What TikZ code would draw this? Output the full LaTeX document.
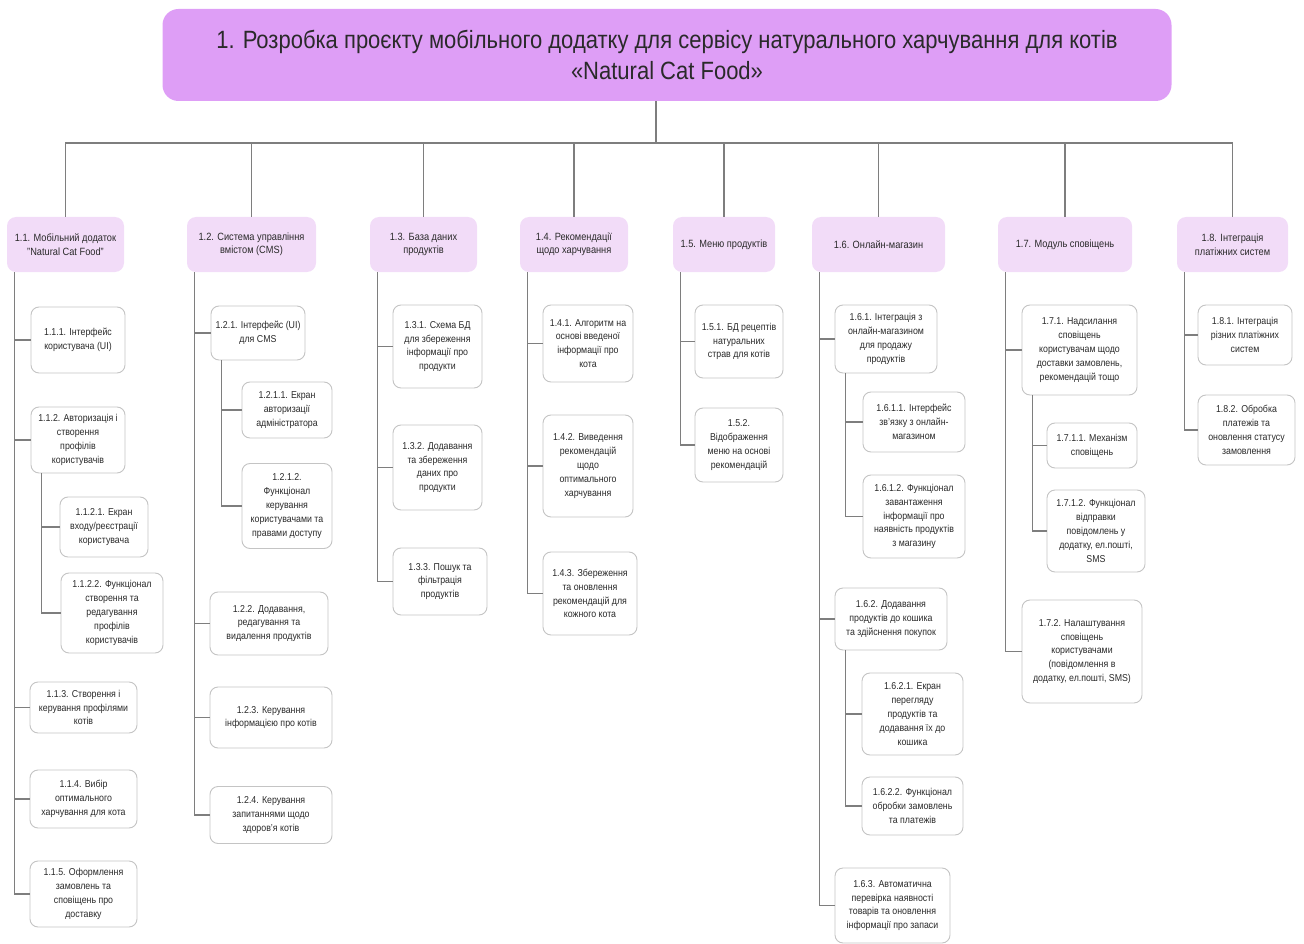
\documentclass[tikz,border=0pt]{standalone}
\usepackage{fontspec}
\setmainfont{Liberation Sans}[FakeStretch=0.88]
\begin{document}
\begin{tikzpicture}[x=1pt,y=-1pt,
  link/.style={draw=linegray, line width=1.1pt},
  rootbox/.style={fill=rootviolet, rounded corners=16pt, align=center, text=textdark,
    font=\fontsize{25}{31}\selectfont, inner sep=0pt},
  groupbox/.style={fill=grouplilac, rounded corners=9pt, align=center, text=textdark,
    font=\fontsize{10.5}{13.5}\selectfont, inner sep=1pt},
  leafbox/.style={draw=boxgray, line width=0.9pt, fill=white, rounded corners=8pt,
    align=center, text=textdark, font=\fontsize{10}{13.8}\selectfont, inner sep=1pt},
]
\definecolor{rootviolet}{HTML}{DE9EF6}
\definecolor{grouplilac}{HTML}{F2DCF8}
\definecolor{boxgray}{HTML}{C4C4C4}
\definecolor{linegray}{HTML}{7E7E7E}
\definecolor{textdark}{HTML}{2A2A2A}

\useasboundingbox (0,0) rectangle (1304,944);

% root
\node[rootbox, minimum width=1009, minimum height=92] (root) at (667,55)
  {1. Розробка проєкту мобільного додатку для сервісу натурального харчування для котів\\«Natural Cat Food»};

% second level
\node[groupbox, minimum width=117, minimum height=55] (n11) at (65.5,244.5) {1.1. Мобільний додаток\\"Natural Cat Food"};
\node[groupbox, minimum width=129, minimum height=55] (n12) at (251.5,244.5) {1.2. Система управління\\вмістом (CMS)};
\node[groupbox, minimum width=107, minimum height=55] (n13) at (423.5,244.5) {1.3. База даних\\продуктів};
\node[groupbox, minimum width=108, minimum height=55] (n14) at (574,244.5) {1.4. Рекомендації\\щодо харчування};
\node[groupbox, minimum width=102, minimum height=55] (n15) at (724,244.5) {1.5. Меню продуктів};
\node[groupbox, minimum width=133, minimum height=55] (n16) at (878.5,244.5) {1.6. Онлайн-магазин};
\node[groupbox, minimum width=134, minimum height=55] (n17) at (1065,244.5) {1.7. Модуль сповіщень};
\node[groupbox, minimum width=111, minimum height=55] (n18) at (1232.5,244.5) {1.8. Інтеграція\\платіжних систем};

% 1.1
\node[leafbox, minimum width=94, minimum height=66] (n111) at (78,340) {1.1.1. Інтерфейс\\користувача (UI)};
\node[leafbox, minimum width=94, minimum height=66] (n112) at (78,440) {1.1.2. Авторизація і\\створення\\профілів\\користувачів};
\node[leafbox, minimum width=88, minimum height=60] (n1121) at (104,527) {1.1.2.1. Екран\\входу/реєстрації\\користувача};
\node[leafbox, minimum width=102, minimum height=80] (n1122) at (112,613) {1.1.2.2. Функціонал\\створення та\\редагування\\профілів\\користувачів};
\node[leafbox, minimum width=107, minimum height=51] (n113) at (83.5,707.5) {1.1.3. Створення і\\керування профілями\\котів};
\node[leafbox, minimum width=107, minimum height=58] (n114) at (83.5,799) {1.1.4. Вибір\\оптимального\\харчування для кота};
\node[leafbox, minimum width=107, minimum height=66] (n115) at (83.5,894) {1.1.5. Оформлення\\замовлень та\\сповіщень про\\доставку};

% 1.2
\node[leafbox, minimum width=94, minimum height=54] (n121) at (258,333) {1.2.1. Інтерфейс (UI)\\для CMS};
\node[leafbox, minimum width=90, minimum height=56] (n1211) at (287,410) {1.2.1.1. Екран\\авторизації\\адміністратора};
\node[leafbox, minimum width=90, minimum height=85] (n1212) at (287,506) {1.2.1.2.\\Функціонал\\керування\\користувачами та\\правами доступу};
\node[leafbox, minimum width=118, minimum height=63] (n122) at (269,623.5) {1.2.2. Додавання,\\редагування та\\видалення продуктів};
\node[leafbox, minimum width=122, minimum height=61] (n123) at (271,717.5) {1.2.3. Керування\\інформацією про котів};
\node[leafbox, minimum width=122, minimum height=57] (n124) at (271,815) {1.2.4. Керування\\запитаннями щодо\\здоров'я котів};

% 1.3
\node[leafbox, minimum width=89, minimum height=83] (n131) at (437.5,346.5) {1.3.1. Схема БД\\для збереження\\інформації про\\продукти};
\node[leafbox, minimum width=89, minimum height=85] (n132) at (437.5,467.5) {1.3.2. Додавання\\та збереження\\даних про\\продукти};
\node[leafbox, minimum width=94, minimum height=67] (n133) at (440,581.5) {1.3.3. Пошук та\\фільтрація\\продуктів};

% 1.4
\node[leafbox, minimum width=90, minimum height=77] (n141) at (588,343.5) {1.4.1. Алгоритм на\\основі введеної\\інформації про\\кота};
\node[leafbox, minimum width=90, minimum height=102] (n142) at (588,466) {1.4.2. Виведення\\рекомендацій\\щодо\\оптимального\\харчування};
\node[leafbox, minimum width=94, minimum height=83] (n143) at (590,593.5) {1.4.3. Збереження\\та оновлення\\рекомендацій для\\кожного кота};

% 1.5
\node[leafbox, minimum width=88, minimum height=73] (n151) at (739,341.5) {1.5.1. БД рецептів\\натуральних\\страв для котів};
\node[leafbox, minimum width=88, minimum height=74] (n152) at (739,445) {1.5.2.\\Відображення\\меню на основі\\рекомендацій};

% 1.6
\node[leafbox, minimum width=102, minimum height=68] (n161) at (886,339) {1.6.1. Інтеграція з\\онлайн-магазином\\для продажу\\продуктів};
\node[leafbox, minimum width=102, minimum height=60] (n1611) at (914,422) {1.6.1.1. Інтерфейс\\зв'язку з онлайн-\\магазином};
\node[leafbox, minimum width=102, minimum height=83] (n1612) at (914,516.5) {1.6.1.2. Функціонал\\завантаження\\інформації про\\наявність продуктів\\з магазину};
\node[leafbox, minimum width=112, minimum height=62] (n162) at (891,619) {1.6.2. Додавання\\продуктів до кошика\\та здійснення покупок};
\node[leafbox, minimum width=101, minimum height=82] (n1621) at (912.5,714) {1.6.2.1. Екран\\перегляду\\продуктів та\\додавання їх до\\кошика};
\node[leafbox, minimum width=101, minimum height=58] (n1622) at (912.5,806) {1.6.2.2. Функціонал\\обробки замовлень\\та платежів};
\node[leafbox, minimum width=115, minimum height=75] (n163) at (892.5,905.5) {1.6.3. Автоматична\\перевірка наявності\\товарів та оновлення\\інформації про запаси};

% 1.7
\node[leafbox, minimum width=115, minimum height=90] (n171) at (1079.5,350) {1.7.1. Надсилання\\сповіщень\\користувачам щодо\\доставки замовлень,\\рекомендацій тощо};
\node[leafbox, minimum width=90, minimum height=45] (n1711) at (1092,445.5) {1.7.1.1. Механізм\\сповіщень};
\node[leafbox, minimum width=98, minimum height=82] (n1712) at (1096,531) {1.7.1.2. Функціонал\\відправки\\повідомлень у\\додатку, ел.пошті,\\SMS};
\node[leafbox, minimum width=120, minimum height=103] (n172) at (1082,651.5) {1.7.2. Налаштування\\сповіщень\\користувачами\\(повідомлення в\\додатку, ел.пошті, SMS)};

% 1.8
\node[leafbox, minimum width=94, minimum height=60] (n181) at (1245,335) {1.8.1. Інтеграція\\різних платіжних\\систем};
\node[leafbox, minimum width=97, minimum height=70] (n182) at (1246.5,430) {1.8.2. Обробка\\платежів та\\оновлення статусу\\замовлення};

% trunk and bar
\coordinate (bar) at (656,143);
\draw[link] (root.south -| bar) -- (bar);
\foreach \g in {n11,n12,n13,n14,n15,n16,n17,n18}
  \draw[link] (bar) -| (\g.north);

% spines from each group box to its items
\foreach \p/\c in {n11/n111, n11/n112, n11/n113, n11/n114, n11/n115,
                   n12/n121, n12/n122, n12/n123, n12/n124,
                   n13/n131, n13/n132, n13/n133,
                   n14/n141, n14/n142, n14/n143,
                   n15/n151, n15/n152,
                   n16/n161, n16/n162, n16/n163,
                   n17/n171, n17/n172,
                   n18/n181, n18/n182}
  \draw[link] ([xshift=8pt]\p.south west) |- (\c.west);

% sub-spines
\foreach \p/\c in {n112/n1121, n112/n1122,
                   n121/n1211, n121/n1212,
                   n161/n1611, n161/n1612,
                   n162/n1621, n162/n1622,
                   n171/n1711, n171/n1712}
  \draw[link] ([xshift=11pt]\p.south west) |- (\c.west);

\end{tikzpicture}
\end{document}
